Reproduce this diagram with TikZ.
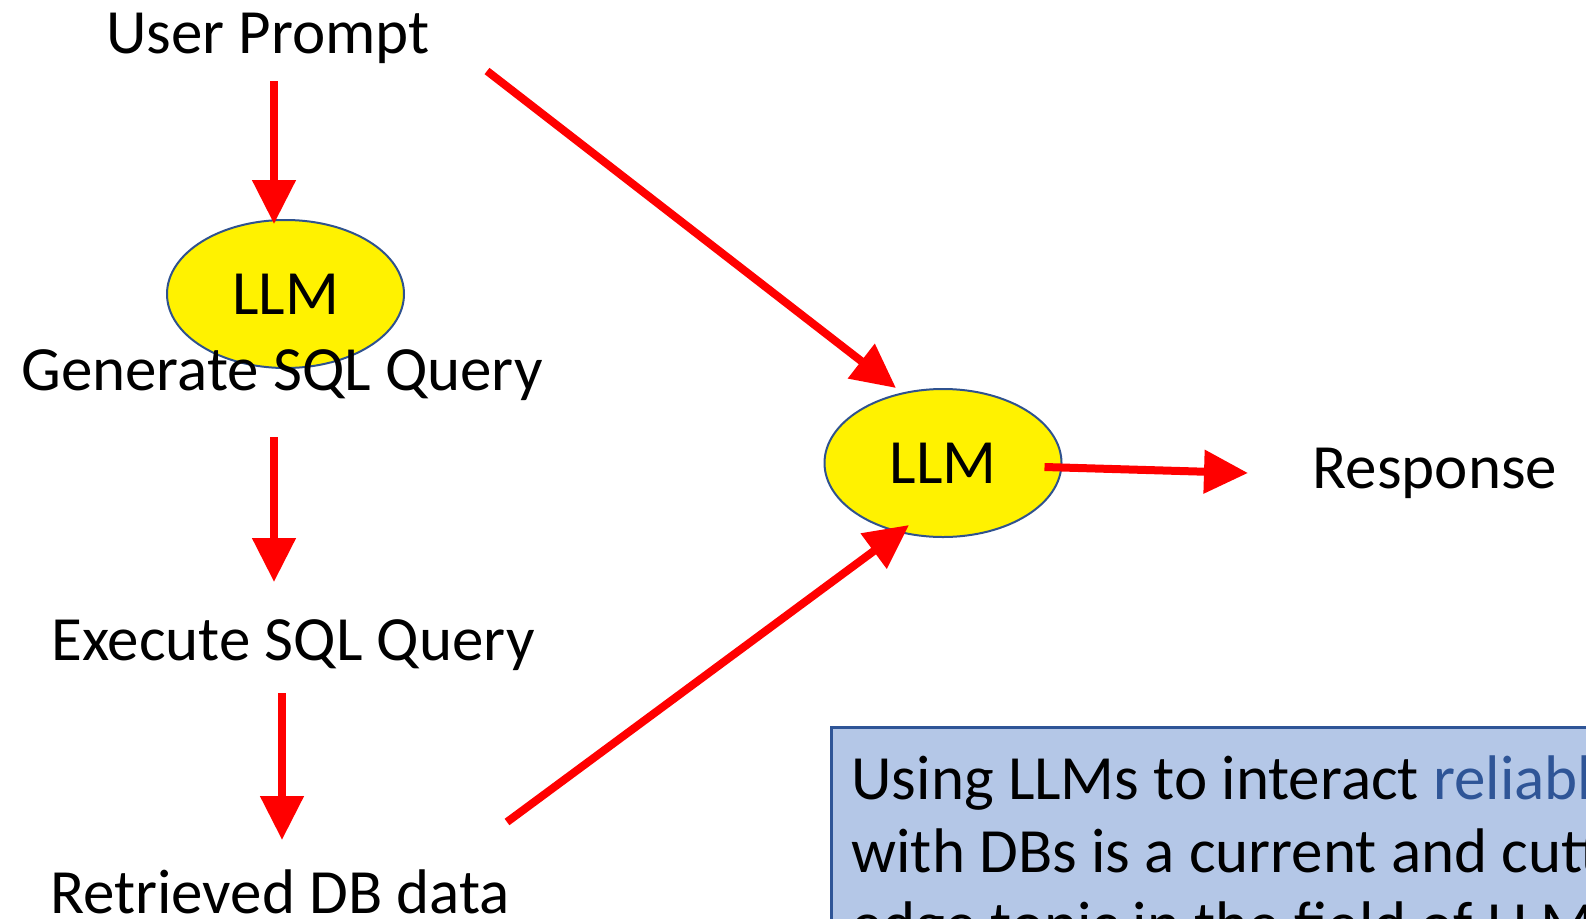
\documentclass[tikz,border=0pt]{standalone}
\usepackage{fontspec}
\setmainfont{Carlito}
\usetikzlibrary{shapes.geometric,arrows.meta,positioning,calc}

\definecolor{llmedge}{HTML}{2F528F}
\definecolor{notefill}{HTML}{B4C7E7}
\definecolor{noteedge}{HTML}{2F5597}

\begin{document}
\begin{tikzpicture}[
    x=1pt, y=-1pt,
    font=\fontsize{63}{73}\selectfont,
    lbl/.style={inner sep=0pt, anchor=base},
    llm/.style={draw=llmedge, line width=2pt, fill=yellow, ellipse, minimum width=237pt, minimum height=148pt, inner sep=0pt},
    flow/.style={draw=red, line width=8pt, -{Triangle[width=42pt,length=44pt]}},
    note/.style={draw=noteedge, line width=3pt, fill=notefill, anchor=base west, align=left, inner xsep=20pt, inner ysep=28pt}
]
\useasboundingbox (0,0) rectangle (1586,918);
\clip (0,0) rectangle (1586,918);

\node[lbl] (user) at (268,53) {User Prompt};
\node[llm] (llmA) at (285.5,294) {LLM};
\node[lbl] (gen) at (282,390) {Generate SQL Query};
\node[lbl] (exec) at (293,660) {Execute SQL Query};
\node[lbl] (ret) at (280,913) {Retrieved DB data};
\node[llm] (llmB) at (943,463) {LLM};
\node[lbl] (resp) at (1435,488) {Response};

\node[note] (fact) at (830,945) {Using LLMs to interact \textcolor{noteedge}{reliably}\\
    with DBs is a current and cutting-\\
    edge topic in the field of LLMs};

\draw[flow] ($(user.base)+(6,28)$) -- ($(llmA.north)+(-11.5,5)$);
\draw[flow] ($(gen.base)+(-8,47)$) -- ($(exec.base)+(-19,-78)$);
\draw[flow] ($(exec.base)+(-11,33)$) -- ($(ret.base)+(2,-73)$);
\draw[flow] ($(user.base)+(219,18)$) -- ($(llmB.north)+(-47,0)$);
\draw[flow] ($(ret.base)+(227,-91)$) -- ($(llmB.south)+(-34,-13)$);
\draw[flow] ($(llmB.east)+(-18,4)$) -- ($(resp.base)+(-187,-15)$);

\end{tikzpicture}
\end{document}
